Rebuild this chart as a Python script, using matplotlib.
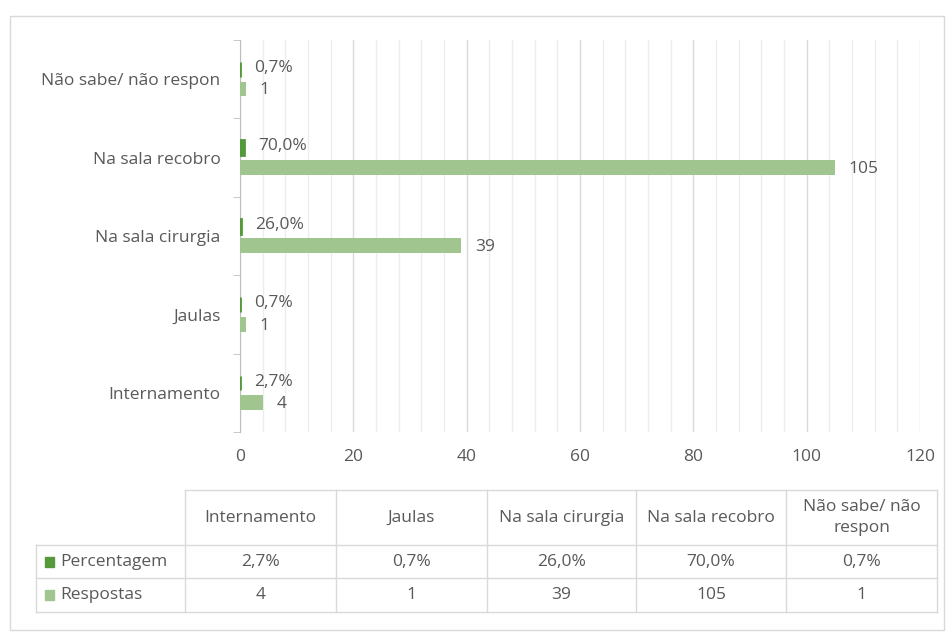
import numpy as np
import matplotlib.pyplot as plt
from matplotlib.patches import Rectangle

categorias = ['Internamento', 'Jaulas', 'Na sala cirurgia', 'Na sala recobro', 'Não sabe/ não respon']
percentagem = [0.027, 0.007, 0.26, 0.70, 0.007]
respostas = [4, 1, 39, 105, 1]
cabecalho = ['Internamento', 'Jaulas', 'Na sala cirurgia', 'Na sala recobro', 'Não sabe/ não\nrespon']
xticks = [0, 20, 40, 60, 80, 100, 120]

escuro = '#55993a'
claro = '#a1c58f'
texto = '#595959'
plt.rcParams['font.family'] = ['Open Sans', 'DejaVu Sans']
fs = 12.5

W, H = 950, 635
fig = plt.figure(figsize=(9.5, 6.35), dpi=100)

# moldura e tabela em coordenadas de pixel
bg = fig.add_axes([0, 0, 1, 1])
bg.set_xlim(0, W)
bg.set_ylim(H, 0)
bg.axis('off')
bg.add_patch(Rectangle((10, 16), 934, 614, fill=False, ec='#d9d9d9', lw=1))

ax = fig.add_axes([240 / W, (H - 432) / H, 680 / W, 392 / H])
y = np.arange(len(categorias))
h = 0.19
d = 0.125
ax.barh(y + d, percentagem, height=h, color=escuro, edgecolor=escuro, lw=2, zorder=3)
ax.barh(y - d, respostas, height=h, color=claro, zorder=3)
for i in range(len(categorias)):
    ax.annotate(f'{percentagem[i]*100:.1f}%'.replace('.', ','), (percentagem[i], y[i] + d),
                xytext=(10, 1), textcoords='offset points', va='center', ha='left', color=texto, fontsize=fs)
    ax.annotate(str(respostas[i]), (respostas[i], y[i] - d),
                xytext=(10, -1), textcoords='offset points', va='center', ha='left', color=texto, fontsize=fs)

ax.set_xlim(0, 120)
ax.set_ylim(-0.5, len(categorias) - 0.5)
ax.set_xticks(xticks)
ax.set_xticks(np.arange(0, 121, 4), minor=True)
ax.set_yticks(y)
ax.set_yticklabels(categorias)
ax.set_yticks(np.arange(-0.5, len(categorias), 1), minor=True)
ax.grid(True, axis='x', which='minor', color='#ededed', lw=1, zorder=0)
ax.grid(True, axis='x', which='major', color='#d9d9d9', lw=1, zorder=0)
ax.tick_params(axis='x', which='both', length=0, pad=12, colors=texto, labelsize=fs)
ax.tick_params(axis='y', which='major', length=0, pad=14, colors=texto, labelsize=fs)
ax.tick_params(axis='y', which='minor', length=5, color='#bfbfbf')
for s in ['top', 'right', 'bottom']:
    ax.spines[s].set_visible(False)
ax.spines['left'].set_color('#bfbfbf')

# tabela de dados
cols = [185, 336, 487, 636, 786, 937]
rows = [490, 545, 578, 612]
lc = '#d9d9d9'
bg.plot([cols[0], cols[-1]], [rows[0], rows[0]], color=lc, lw=1)
for r in rows[1:]:
    bg.plot([36, cols[-1]], [r, r], color=lc, lw=1)
for c in cols:
    bg.plot([c, c], [rows[0], rows[-1]], color=lc, lw=1)
bg.plot([36, 36], [rows[1], rows[-1]], color=lc, lw=1)

for j in range(len(cabecalho)):
    xc = (cols[j] + cols[j + 1]) / 2
    bg.text(xc, (rows[0] + rows[1]) / 2, cabecalho[j], ha='center', va='center',
            color=texto, fontsize=fs, linespacing=1.4)
    bg.text(xc, (rows[1] + rows[2]) / 2, f'{percentagem[j]*100:.1f}%'.replace('.', ','),
            ha='center', va='center', color=texto, fontsize=fs)
    bg.text(xc, (rows[2] + rows[3]) / 2, str(respostas[j]),
            ha='center', va='center', color=texto, fontsize=fs)

for k, (nome, cor) in enumerate([('Percentagem', escuro), ('Respostas', claro)]):
    yc = (rows[k + 1] + rows[k + 2]) / 2
    bg.add_patch(Rectangle((45, yc - 5), 9, 10, color=cor))
    bg.text(60, yc, nome, ha='left', va='center', color=texto, fontsize=fs)

fig.savefig('out.png', dpi=100)
